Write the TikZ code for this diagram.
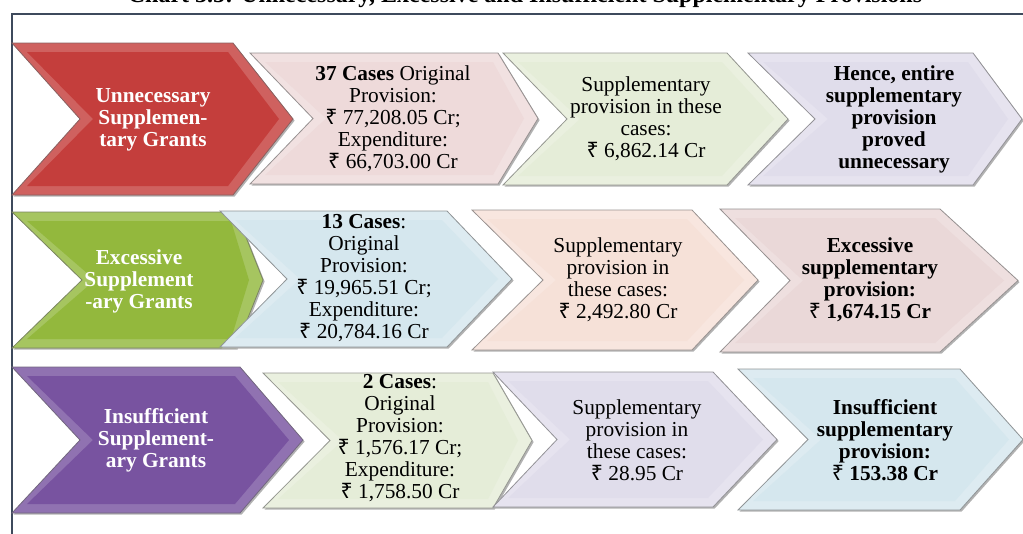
\documentclass[tikz,border=0pt]{standalone}
\usepackage{fontspec}
\setmainfont{Liberation Serif}
\newfontfamily\rupeefont{Noto Sans}
\newcommand{\rs}{{\rupeefont ₹}}
\usepackage{tikz}
\usetikzlibrary{positioning}

\definecolor{redgr}{HTML}{C43E3C}
\definecolor{greengr}{HTML}{93B83D}
\definecolor{purplegr}{HTML}{7853A0}
\definecolor{pinkbx}{HTML}{EEDADA}
\definecolor{sagebx}{HTML}{E5EDD8}
\definecolor{lilacbx}{HTML}{E0DDEB}
\definecolor{bluebx}{HTML}{D5E7EE}
\definecolor{peachbx}{HTML}{F6E1D8}
\definecolor{rosebx}{HTML}{EAD8D8}
\definecolor{framecol}{HTML}{3E4A5C}

% chevron: left x, notch x, right x, tip x, top y, bottom y, colour
\newcommand{\chevron}[7]{%
  \pgfmathsetmacro{\ym}{(#5+#6)/2}
  \fill[black!30, xshift=1.2pt, yshift=-1.2pt] (#1,#5) -- (#3,#5) -- (#4,\ym) -- (#3,#6) -- (#1,#6) -- (#2,\ym) -- cycle;
  \filldraw[fill=#7!82!white, draw=#7!45!black!70, line width=0.6pt] (#1,#5) -- (#3,#5) -- (#4,\ym) -- (#3,#6) -- (#1,#6) -- (#2,\ym) -- cycle;
  \fill[#7] (#1+15,#5+9) -- (#3-5,#5+9) -- (#4-14,\ym) -- (#3-5,#6-9) -- (#1+15,#6-9) -- (#2+13,\ym) -- cycle;
}

\begin{document}
\begin{tikzpicture}[x=0.75pt, y=-0.75pt,
  txt/.style={align=center, inner sep=0pt, font=\fontsize{16}{16.5}\selectfont},
  head/.style={txt, text=white, font=\fontsize{16}{16.5}\selectfont\bfseries}]
  \useasboundingbox (0,0) rectangle (1023,533);
  \node[anchor=base, font=\fontsize{18}{20}\selectfont\bfseries] (title) at (525,2)
    {Chart 3.5: Unnecessary, Excessive and Insufficient Supplementary Provisions};
  \draw[framecol, line width=1.3pt] (1023,14) -- (12,14) -- (12,540);

  % row 1
  \chevron{12}{80}{233}{293}{43}{195}{redgr}
  \chevron{250}{313}{498}{538}{53}{184}{pinkbx}
  \chevron{503}{567}{727}{788}{53}{185}{sagebx}
  \chevron{748}{815}{973}{1022}{53}{185}{lilacbx}
  \node[head] (unnec) at (153,120) {Unnecessary\\Supplemen-\\tary Grants};
  \node[txt] (unnecorig) at (393,119) {\textbf{37 Cases} Original\\Provision:\\\rs\ 77,208.05 Cr;\\Expenditure:\\\rs\ 66,703.00 Cr};
  \node[txt] (unnecsupp) at (646,119) {Supplementary\\provision in these\\cases:\\\rs\ 6,862.14 Cr};
  \node[txt, font=\fontsize{16}{16.5}\selectfont\bfseries] (unnecres) at (894,119) {Hence, entire\\supplementary\\provision\\proved\\unnecessary};

  % row 2
  \chevron{12}{82}{236}{263}{212}{348}{greengr}
  \chevron{220}{287}{447}{512}{211}{347}{bluebx}
  \chevron{472}{543}{692}{758}{210}{350}{peachbx}
  \chevron{720}{790}{940}{1018}{209}{352}{rosebx}
  \node[head] (excess) at (139,281) {Excessive\\Supplement\\-ary Grants};
  \node[txt] (excessorig) at (364,278) {\textbf{13 Cases}:\\Original\\Provision:\\\rs\ 19,965.51 Cr;\\Expenditure:\\\rs\ 20,784.16 Cr};
  \node[txt] (excesssupp) at (618,280) {Supplementary\\provision in\\these cases:\\\rs\ 2,492.80 Cr};
  \node[txt, font=\fontsize{16}{16.5}\selectfont\bfseries] (excessres) at (870,280) {Excessive\\supplementary\\provision:\\\rs\ 1,674.15 Cr};

  % row 3
  \chevron{12}{80}{240}{303}{367}{513}{purplegr}
  \chevron{263}{330}{493}{532}{373}{508}{sagebx}
  \chevron{493}{557}{713}{777}{372}{507}{lilacbx}
  \chevron{738}{808}{960}{1023}{369}{510}{bluebx}
  \node[head] (insuff) at (156,440) {Insufficient\\Supplement-\\ary Grants};
  \node[txt] (insufforig) at (400,438) {\textbf{2 Cases}:\\Original\\Provision:\\\rs\ 1,576.17 Cr;\\Expenditure:\\\rs\ 1,758.50 Cr};
  \node[txt] (insuffsupp) at (637,440) {Supplementary\\provision in\\these cases:\\\rs\ 28.95 Cr};
  \node[txt, font=\fontsize{16}{16.5}\selectfont\bfseries] (insuffres) at (885,440) {Insufficient\\supplementary\\provision:\\\rs\ 153.38 Cr};
\end{tikzpicture}
\end{document}
